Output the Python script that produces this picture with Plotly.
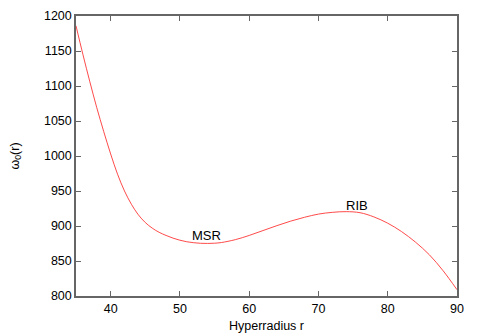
import plotly.graph_objects as go

r_vals = [35, 36, 37, 38, 39, 40, 41, 42, 43, 44, 45, 46, 47, 48, 49, 50, 51, 52, 53, 54, 55, 56,
          58, 60, 62, 64, 66, 68, 70, 72, 74, 76, 78, 80, 82, 84, 86, 88, 90]
omega_vals = [1186, 1145, 1106, 1069, 1035, 1003, 974, 950, 931, 916, 905, 897, 891, 886.5, 882.7, 879.7, 877.5, 876.1, 875.3, 875.1, 875.4, 876.4,
              880.5, 886.5, 893.5, 900.5, 907, 912.5, 917, 919.5, 920.5, 919, 913, 904, 892, 877, 859, 836, 809]

label_text = ["MSR", "RIB"]
label_x = [53.9, 75.6]
label_y = [886, 930]

x_ticks = [40, 50, 60, 70, 80, 90]
y_ticks = [800, 850, 900, 950, 1000, 1050, 1100, 1150, 1200]

FONT = "Liberation Sans, Arial, sans-serif"

fig = go.Figure()
fig.add_trace(go.Scatter(x=r_vals, y=omega_vals, mode="lines",
                         line=dict(color="#ff3535", width=0.9, shape="spline", smoothing=1.0),
                         showlegend=False, hoverinfo="skip"))

for t, x, y in zip(label_text, label_x, label_y):
    fig.add_annotation(x=x, y=y, text=t, showarrow=False,
                       font=dict(family=FONT, size=13, color="black"))

axis_common = dict(showgrid=False, zeroline=False, showline=True, mirror="ticks",
                   linecolor="#666666", linewidth=1.5, ticks="inside", ticklen=5,
                   tickcolor="#666666", tickwidth=1, automargin=False,
                   tickfont=dict(family=FONT, size=12.5, color="black"))

fig.update_layout(
    width=480, height=336,
    margin=dict(l=76, r=23, t=16, b=40),
    paper_bgcolor="white", plot_bgcolor="white",
    xaxis=dict(range=[35, 90], tickvals=x_ticks,
               title=dict(text="Hyperradius r", standoff=6, font=dict(family=FONT, size=12.5, color="black")),
               **axis_common),
    yaxis=dict(range=[800, 1200], tickvals=y_ticks,
               title=dict(text="ω<sub>0</sub>(r)", standoff=22, font=dict(family=FONT, size=12.5, color="black")),
               **axis_common),
)

fig.write_html("out.html", config={"displayModeBar": False},
               post_script="document.body.style.margin='0';document.body.style.overflow='hidden';")
